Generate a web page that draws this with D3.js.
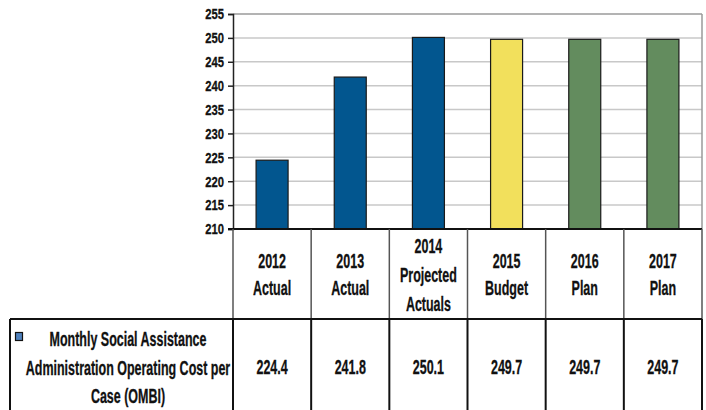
<!DOCTYPE html>
<html>
<head>
<meta charset="utf-8">
<title>Monthly Social Assistance Cost per Case</title>
<style>
  body { margin: 0; background: #fff; }
  svg text { font-family: "Liberation Sans", Arial, sans-serif; font-weight: bold; fill: #111; stroke: #111; stroke-width: 0.3px; }
</style>
</head>
<body>
<svg id="chart" width="706" height="410"></svg>
<script src="https://cdnjs.cloudflare.com/ajax/libs/d3/7.8.5/d3.min.js"></script>
<script>
// data
const years = ['2012', '2013', '2014', '2015', '2016', '2017'];
const kinds = [['Actual'], ['Actual'], ['Projected', 'Actuals'], ['Budget'], ['Plan'], ['Plan']];
const values = [224.4, 241.8, 250.1, 249.7, 249.7, 249.7];
const colors = ['#02568f', '#02568f', '#02568f', '#f2e05c', '#638c5e', '#638c5e'];
const yTicks = [210, 215, 220, 225, 230, 235, 240, 245, 250, 255];
const seriesName = ['Monthly Social Assistance', 'Administration Operating Cost per', 'Case (OMBI)'];

const svg = d3.select('#chart');
const plotL = 233, plotR = 702, plotT = 14, base = 229;
const sx = 0.64; // horizontal squeeze of the table text

const x = d3.scaleBand().domain(years).range([plotL, plotR]).paddingInner(0).paddingOuter(0);
const y = d3.scaleLinear().domain([210, 255]).range([base, plotT]);

// narrow text: draw at (cx, cy) squeezed horizontally
function label(txt, cx, cy, size, anchor) {
  return svg.append('text')
    .attr('transform', `translate(${cx},${cy}) scale(${sx},1)`)
    .attr('text-anchor', anchor || 'middle')
    .style('font-size', size + 'px')
    .text(txt);
}

// gridlines
svg.append('g').selectAll('line')
  .data(yTicks.slice(1))
  .enter().append('line')
  .attr('x1', plotL).attr('x2', plotR)
  .attr('y1', d => y(d)).attr('y2', d => y(d))
  .attr('stroke', d => d === 255 ? '#9a9a9a' : '#c8c8c8')
  .attr('stroke-width', 1.5);

// right border of plot
svg.append('line')
  .attr('x1', plotR).attr('x2', plotR).attr('y1', plotT).attr('y2', base)
  .attr('stroke', '#9a9a9a').attr('stroke-width', 1.5);

// bars
const bw = 32;
svg.append('g').selectAll('rect')
  .data(values)
  .enter().append('rect')
  .attr('x', (d, i) => x(years[i]) + x.bandwidth() / 2 - bw / 2)
  .attr('y', d => y(d))
  .attr('width', bw)
  .attr('height', d => base - y(d))
  .attr('fill', (d, i) => colors[i])
  .attr('stroke', '#1a1a1a')
  .attr('stroke-width', 1.2);

// y axis
const yAxis = d3.axisLeft(y).tickValues(yTicks).tickSize(5).tickPadding(4);
const ya = svg.append('g').attr('transform', `translate(${plotL},0)`).call(yAxis);
ya.select('.domain').attr('stroke', '#222').attr('stroke-width', 1.5);
ya.selectAll('.tick line').attr('stroke', '#222').attr('stroke-width', 1.5);
ya.selectAll('.tick text')
  .style('font-size', '15px').attr('fill', '#111')
  .attr('x', -9 / 0.75).attr('transform', 'scale(0.75,1)');

// base axis line
svg.append('line')
  .attr('x1', plotL - 5).attr('x2', plotR).attr('y1', base).attr('y2', base)
  .attr('stroke', '#111').attr('stroke-width', 2);

// table grid
const rowTop = 319, tableLeft = 10;
const edges = [plotL].concat(years.map(d => x(d) + x.bandwidth()));
const grid = svg.append('g');
edges.forEach(vx => {
  grid.append('line')
    .attr('x1', vx).attr('x2', vx).attr('y1', base).attr('y2', rowTop)
    .attr('stroke', '#555').attr('stroke-width', 1.5);
});
grid.append('line')
  .attr('x1', tableLeft).attr('x2', plotR).attr('y1', rowTop).attr('y2', rowTop)
  .attr('stroke', '#111').attr('stroke-width', 2);
[tableLeft].concat(edges).forEach(vx => {
  grid.append('line')
    .attr('x1', vx).attr('x2', vx).attr('y1', rowTop).attr('y2', 412)
    .attr('stroke', '#111').attr('stroke-width', 2);
});

// header labels
years.forEach((yr, i) => {
  const lines = [yr].concat(kinds[i]);
  const cx = x(yr) + x.bandwidth() / 2;
  const y0 = lines.length === 3 ? 253 : 268;
  const step = lines.length === 3 ? 29 : 27;
  lines.forEach((l, j) => label(l, cx, y0 + j * step, 19.5));
});

// value row
values.forEach((v, i) => {
  label(v.toFixed(1), x(years[i]) + x.bandwidth() / 2, 374, 19.5);
});

// legend cell
svg.append('rect')
  .attr('x', 15.5).attr('y', 332.5).attr('width', 7).attr('height', 8)
  .attr('fill', '#4f81bd').attr('stroke', '#111').attr('stroke-width', 1.2);
seriesName.forEach((l, j) => label(l, 128, 346 + j * 28.5, 19.5));
</script>
</body>
</html>
